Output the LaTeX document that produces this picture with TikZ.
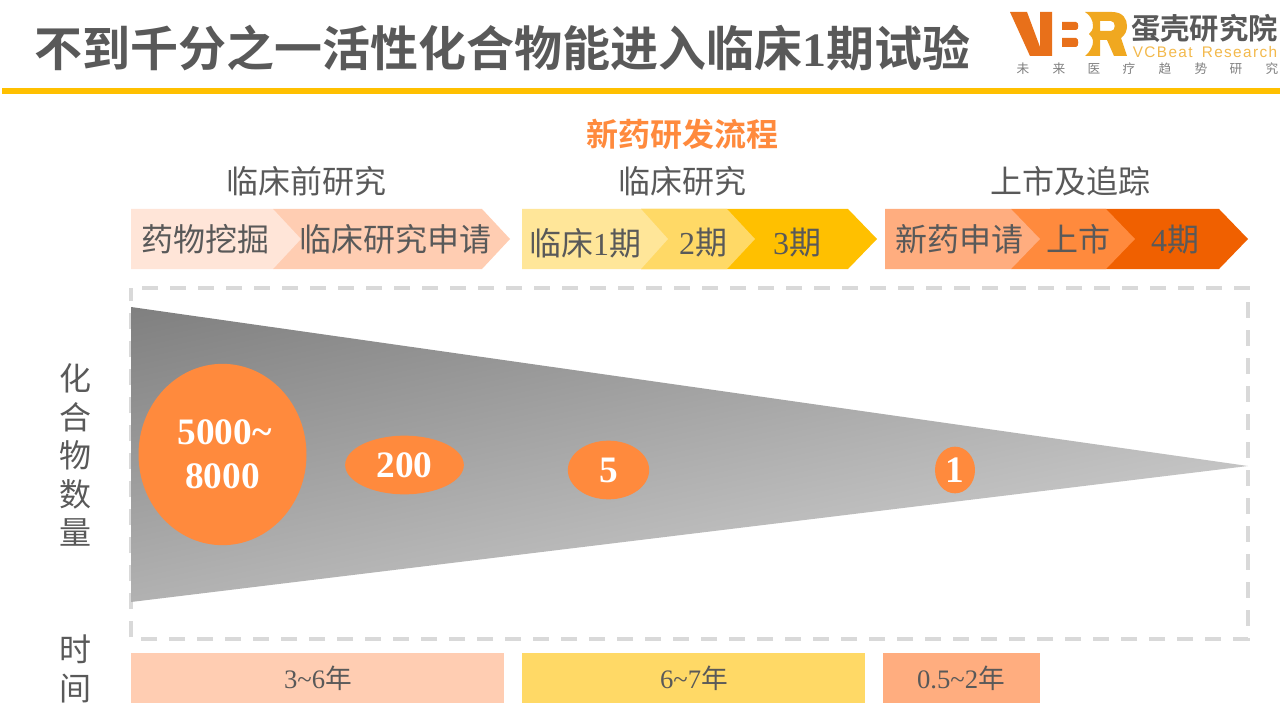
\documentclass[tikz,border=0pt]{standalone}
\usepackage{fontspec}
\setmainfont{Liberation Serif}
\newfontfamily\cjk{Noto Sans CJK SC}
\newfontfamily\cjkb{Noto Sans CJK SC Bold}
\newfontfamily\latinsp[LetterSpace=9]{Liberation Sans}
\newcommand{\fs}[1]{\fontsize{#1}{#1}\selectfont}
\definecolor{txt}{HTML}{595959}
\definecolor{org}{HTML}{FF8A3D}
\definecolor{pa}{HTML}{FFE5D8}
\definecolor{pb}{HTML}{FFCDB2}
\definecolor{ya}{HTML}{FFE699}
\definecolor{yb}{HTML}{FFD966}
\definecolor{yc}{HTML}{FFC000}
\definecolor{oa}{HTML}{FFAD7F}
\definecolor{ob}{HTML}{FF8A3D}
\definecolor{oc}{HTML}{F06000}
\definecolor{framegray}{HTML}{D9D9D9}
\definecolor{logoo}{HTML}{E8701A}
\definecolor{logoy}{HTML}{F0A820}
\usetikzlibrary{shapes.geometric}
\tikzset{
 lbl/.style={inner sep=0pt,text=txt,font=\cjk\fs{24}},
 seg/.style={inner sep=0pt,text=txt,font=\cjk\fs{24}},
 bub/.style={ellipse,fill=org,inner sep=0pt,text=white,font=\bfseries\fs{28},align=center},
 timelabel/.style={inner sep=0pt,text=txt,font=\fs{20}},
}
\begin{document}
\begin{tikzpicture}[x=0.75pt,y=-0.75pt]
\useasboundingbox (0,0) rectangle (1280,720);
\fill[white] (0,0) rectangle (1280,720);
% header
\node[inner sep=0pt,anchor=west,text=txt,font=\cjkb\fs{36}] (title) at (34,48) {不到千分之一活性化合物能进入临床{\bfseries\rmfamily 1}期试验};
\fill[yc] (2,88.5) rectangle (1280,94);
% logo
\fill[logoo] (1010,12) -- (1027,12) -- (1040,47) -- (1040,12) -- (1052,12) -- (1052,56) -- (1030,56) -- cycle;
\fill[logoo] (1062,22) -- (1076,22) .. controls (1079,22) and (1079,30) .. (1076,30) -- (1062,30) -- cycle;
\fill[logoo] (1062,38) -- (1076,38) .. controls (1079,38) and (1079,47) .. (1076,47) -- (1062,47) -- cycle;
\fill[logoy,even odd rule] (1085,12) -- (1112,12) .. controls (1123,12) and (1127,19) .. (1127,26) .. controls (1127,31) and (1125,35) .. (1121,38) -- (1127,56) -- (1114,56) -- (1107,40) -- (1100,40) -- (1100,56) -- (1085,56) .. controls (1090,52) and (1093,46) .. (1093,42) .. controls (1093,38) and (1091,36) .. (1089,34) .. controls (1091,32) and (1093,30) .. (1093,26) .. controls (1093,20) and (1090,15) .. (1085,12) -- cycle (1100,21) -- (1111,21) .. controls (1116,21) and (1116,31) .. (1111,31) -- (1100,31) -- cycle;
\node[inner sep=0pt,text=txt,font=\cjkb\fs{22}] (brand) at (1204.5,28) {蛋壳研究院};
\node[inner sep=0pt,text=logoy!80,font=\latinsp\fs{11.5}] (en) at (1205,52) {VCBeat\hspace{0.6em}Research};
\foreach \c/\x in {未/1023,来/1059,医/1094,疗/1129,趋/1165,势/1201,研/1236,究/1272}
  \node[inner sep=0pt,text=black!50,font=\cjk\fs{9.5}] at (\x,69) {\c};
% headings
\node[inner sep=0pt,text=org,font=\cjkb\fs{24}] (flow) at (682,134) {新药研发流程};
\node[lbl] (h1) at (306.5,181) {临床前研究};
\node[lbl] (h2) at (682,181) {临床研究};
\node[lbl] (h3) at (1070,181) {上市及追踪};
% chevrons
\fill[pb] (273,209) -- (482,209) -- (510,239) -- (482,269) -- (273,269) -- cycle;
\fill[pa] (131,209) -- (273,209) -- (301,239) -- (273,269) -- (131,269) -- cycle;
\fill[yc] (641,209) -- (848,209) -- (877,239) -- (848,269) -- (641,269) -- cycle;
\fill[yb] (641,209) -- (727,209) -- (755,239) -- (727,269) -- (641,269) -- cycle;
\fill[ya] (522,209) -- (641,209) -- (668,239) -- (641,269) -- (522,269) -- cycle;
\fill[oc] (1050,209) -- (1219,209) -- (1248,239) -- (1219,269) -- (1050,269) -- cycle;
\fill[ob] (1011,209) -- (1106,209) -- (1135,239) -- (1106,269) -- (1011,269) -- cycle;
\fill[oa] (885,209) -- (1011,209) -- (1040,239) -- (1011,269) -- (885,269) -- cycle;
\node[seg] (s1) at (205,239) {药物挖掘};
\node[seg] (s2) at (395.5,239) {临床研究申请};
\node[seg] (s3) at (585,243) {临床{\rmfamily 1}期};
\node[seg] (s4) at (703,243) {{\rmfamily 2}期};
\node[seg] (s5) at (797,243) {{\rmfamily 3}期};
\node[seg] (s6) at (959,239) {新药申请};
\node[seg] (s7) at (1078,239) {上市};
\node[seg] (s8) at (1175,240) {{\rmfamily 4}期};
% dashed frame
\draw[framegray,line width=3pt,dash pattern=on 12pt off 9pt,dash phase=12.75pt] (131,288) -- (1248,288) -- (1248,639) -- (131,639) -- cycle;
% funnel: linear gradient tilted 12.5 degrees from vertical, in true picture space
\begin{scope}
\clip (131,307) -- (1248,466) -- (131,602) -- cycle;
\begin{scope}[transform canvas={shift={(131,307)},rotate=12.5}]
\shade[top color=black!50,bottom color=black!23] (-200,0) rectangle (1300,397);
\end{scope}
\end{scope}
% bubbles
\node[bub,minimum width=126pt,minimum height=136pt] (b1) at (222.5,454.5) {\hspace*{3pt}5000\textasciitilde\\[4.75pt]8000};
\node[bub,minimum width=89pt,minimum height=44pt] (b2) at (404.5,465) {200};
\node[bub,minimum width=61pt,minimum height=44pt] (b3) at (608.5,470) {5};
\node[bub,minimum width=30pt,minimum height=35pt] (b4) at (955,470) {1};
% side labels
\node[lbl,align=center] (yl) at (75,455) {化\\[4.9pt]合\\[4.9pt]物\\[4.9pt]数\\[4.9pt]量};
\node[lbl,align=center] (tl) at (75,669) {时\\[4.9pt]间};
% time bars
\fill[pb] (131,653) rectangle (504,703);
\fill[yb] (522,653) rectangle (865,703);
\fill[oa] (883,653) rectangle (1040,703);
\node[timelabel] (t1) at (318,678) {3\textasciitilde 6{\cjk 年}};
\node[timelabel] (t2) at (694,678) {6\textasciitilde 7{\cjk 年}};
\node[timelabel] (t3) at (961,678) {0.5\textasciitilde 2{\cjk 年}};
\end{tikzpicture}
\end{document}
